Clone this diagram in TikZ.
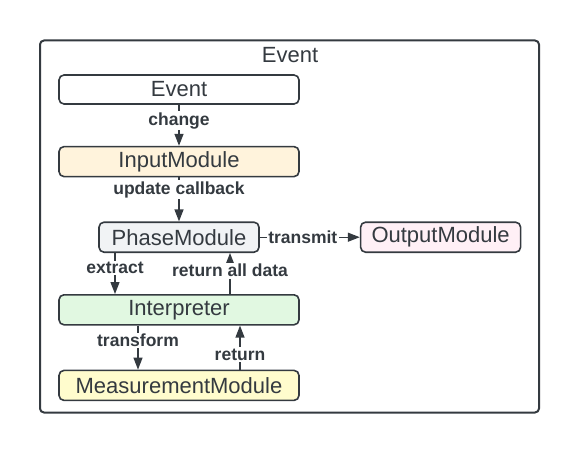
\documentclass[tikz,border=0pt]{standalone}
\usepackage{fontspec}
\setmainfont{Liberation Sans}
\usepackage{tikz}
\usetikzlibrary{positioning,arrows.meta}

\definecolor{ink}{HTML}{343A40}
\definecolor{inputfill}{HTML}{FFF3DC}
\definecolor{phasefill}{HTML}{F1F3F5}
\definecolor{outfill}{HTML}{FFF0F6}
\definecolor{interpfill}{HTML}{E1F8E1}
\definecolor{measfill}{HTML}{FFFCCD}

\begin{document}
\begin{tikzpicture}[x=1pt,y=-1pt,>={Triangle[length=12pt,width=9pt]},node distance=41pt and 100pt]
\tikzstyle{M}=[draw=ink,line width=1.6pt,rounded corners=5pt,text=ink,minimum height=30pt,inner sep=0pt,font=\fontsize{22}{25}\selectfont]
\tikzstyle{L}=[fill=white,text=ink,inner sep=1.5pt,font=\fontsize{17.5}{20}\selectfont\bfseries]
\tikzstyle{E}=[->,draw=ink,line width=1.3pt]
\useasboundingbox (0,0) rectangle (580,454);
% outer frame
\node[draw=ink,line width=2pt,rounded corners=4pt,minimum width=499pt,minimum height=372pt] (frame) at (289.5,226.5) {};
\node[text=ink,font=\fontsize{22}{25}\selectfont] (ftitle) at (290,55) {Event};
% modules
\node[M,fill=white,minimum width=240pt,minimum height=29pt] (ev) at (179,89.5) {Event};
\node[M,fill=inputfill,minimum width=240pt,below=41pt of ev] (inp) {InputModule};
\node[M,fill=phasefill,minimum width=160pt,below=44pt of inp] (phase) {PhaseModule};
\node[M,fill=outfill,minimum width=160pt,right=of phase] (out) {OutputModule};
\node[M,fill=interpfill,minimum width=240pt,below=of phase] (interp) {Interpreter};
\node[M,fill=measfill,minimum width=240pt,below=44pt of interp] (meas) {MeasurementModule};
% connectors
\draw[E] (ev) -- node[L,pos=0.39] {change} (inp);
\draw[E] (inp) -- node[L,pos=0.28] {update callback} (phase);
\draw[E] (phase) -- node[L,pos=0.43] {transmit} (out);
\draw[E] ([xshift=-64pt]phase.south) -- node[L,pos=0.37] {extract} ([xshift=-64pt]phase.south |- interp.north);
\draw[E] ([xshift=51pt]phase.south |- interp.north) -- node[L,pos=0.57] {return all data} ([xshift=51pt]phase.south);
\draw[E] ([xshift=-41pt]interp.south) -- node[L,pos=0.34] {transform} ([xshift=-41pt]interp.south |- meas.north);
\draw[E] ([xshift=61pt]interp.south |- meas.north) -- node[L,pos=0.34] {return} ([xshift=61pt]interp.south);
\end{tikzpicture}
\end{document}
